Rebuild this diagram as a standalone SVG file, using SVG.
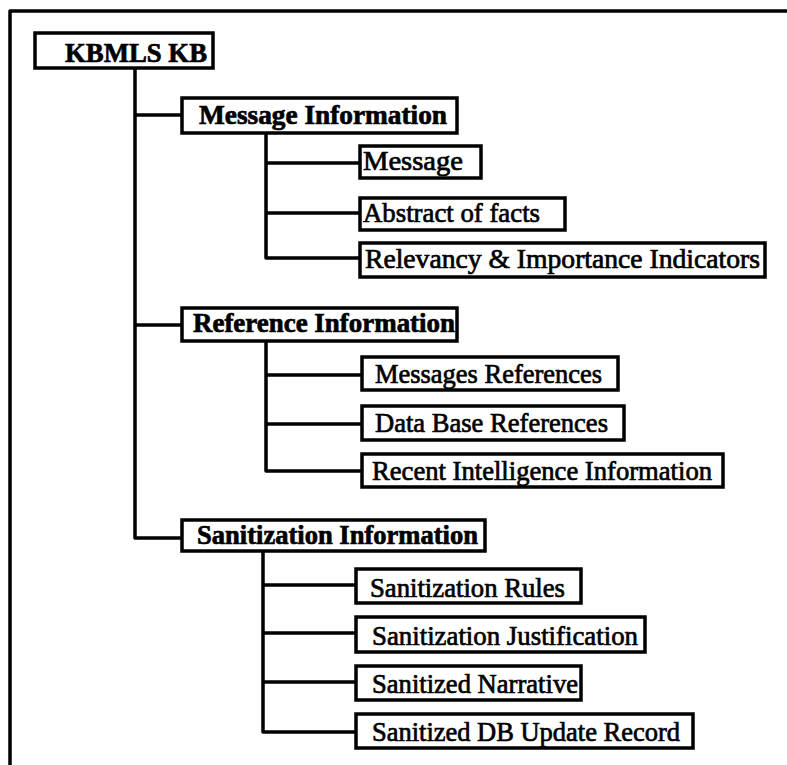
<svg xmlns="http://www.w3.org/2000/svg" width="787" height="765" viewBox="0 0 787 765">
<style>
.box{fill:#fff;stroke:#000;stroke-width:3.5}
.h{font-family:"Liberation Serif","Times New Roman",serif;font-weight:bold;font-size:28px;fill:#000;stroke:#000;stroke-width:0.7}
.c{font-family:"Liberation Serif","Times New Roman",serif;font-weight:normal;font-size:27px;fill:#000;stroke:#000;stroke-width:0.7}
.ln{fill:none;stroke:#000;stroke-width:3.5;stroke-linejoin:round}
</style>
<rect width="787" height="765" fill="#fff"/>
<path class="ln" d="M10,765 V11 H787"/>
<g id="connectors">
<path class="ln" d="M135,68 V538 H182 M135,115 H182 M135,325 H182"/>
<path class="ln" d="M266,133 V258 H360 M266,163 H360 M266,213 H360"/>
<path class="ln" d="M266,340 V471 H362 M266,375 H362 M266,424 H362"/>
<path class="ln" d="M263,550 V732 H356 M263,585 H356 M263,633 H356 M263,682 H356"/>
</g>
<g id="kbmls"><rect class="box" x="35" y="33" width="178" height="35"/><text class="h" x="65" y="62" textLength="142" lengthAdjust="spacingAndGlyphs">KBMLS KB</text></g>
<g id="msginfo"><rect class="box" x="182" y="98" width="275" height="35"/><text class="h" x="199" y="124" textLength="248" lengthAdjust="spacingAndGlyphs">Message Information</text></g>
<g id="message"><rect class="box" x="360" y="146" width="121" height="32"/><text class="c" x="363" y="170" textLength="100" lengthAdjust="spacingAndGlyphs">Message</text></g>
<g id="abstract"><rect class="box" x="360" y="198" width="205" height="32"/><text class="c" x="363" y="222" textLength="177" lengthAdjust="spacingAndGlyphs">Abstract of facts</text></g>
<g id="relevancy"><rect class="box" x="360" y="243" width="405" height="34"/><text class="c" x="365" y="268" textLength="395" lengthAdjust="spacingAndGlyphs">Relevancy &amp; Importance Indicators</text></g>
<g id="refinfo"><rect class="box" x="182" y="308" width="275" height="33"/><text class="h" x="193" y="332" textLength="262" lengthAdjust="spacingAndGlyphs">Reference Information</text></g>
<g id="msgrefs"><rect class="box" x="362" y="357" width="256" height="33"/><text class="c" x="375" y="383" textLength="227" lengthAdjust="spacingAndGlyphs">Messages References</text></g>
<g id="dbrefs"><rect class="box" x="362" y="406" width="262" height="34"/><text class="c" x="375" y="432" textLength="233" lengthAdjust="spacingAndGlyphs">Data Base References</text></g>
<g id="recent"><rect class="box" x="362" y="454" width="361" height="33"/><text class="c" x="372" y="480" textLength="340" lengthAdjust="spacingAndGlyphs">Recent Intelligence Information</text></g>
<g id="saninfo"><rect class="box" x="182" y="520" width="303" height="31"/><text class="h" x="197" y="544" textLength="281" lengthAdjust="spacingAndGlyphs">Sanitization Information</text></g>
<g id="sanrules"><rect class="box" x="356" y="569" width="225" height="34"/><text class="c" x="370" y="597" textLength="195" lengthAdjust="spacingAndGlyphs">Sanitization Rules</text></g>
<g id="sanjust"><rect class="box" x="356" y="617" width="289" height="35"/><text class="c" x="372" y="645" textLength="266" lengthAdjust="spacingAndGlyphs">Sanitization Justification</text></g>
<g id="sannarr"><rect class="box" x="356" y="666" width="225" height="34"/><text class="c" x="372" y="693" textLength="206" lengthAdjust="spacingAndGlyphs">Sanitized Narrative</text></g>
<g id="sandb"><rect class="box" x="356" y="714" width="337" height="34"/><text class="c" x="372" y="741" textLength="308" lengthAdjust="spacingAndGlyphs">Sanitized DB Update Record</text></g>
</svg>
